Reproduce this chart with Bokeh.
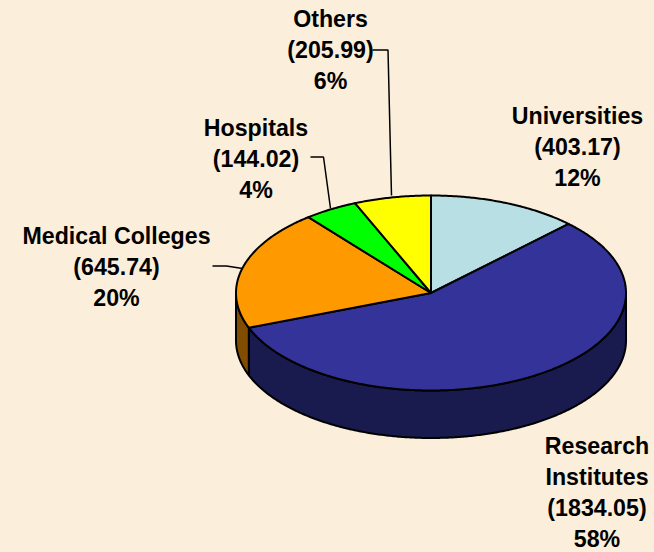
import numpy as np
from bokeh.embed import file_html
from bokeh.models import GlobalInlineStyleSheet, Range1d
from bokeh.plotting import figure
from bokeh.resources import INLINE

categories = ["Universities", "Research Institutes", "Medical Colleges", "Hospitals", "Others"]
values = [403.17, 1834.05, 645.74, 144.02, 205.99]
percents = ["12%", "58%", "20%", "4%", "6%"]
top_colors = ["#b8dfe3", "#333399", "#ff9900", "#00ff00", "#ffff00"]
side_colors = [None, "#191a4d", "#7f4c00", None, None]
value_labels = ["(403.17)", "(1834.05)", "(645.74)", "(144.02)", "(205.99)"]
label_lines = [
    ["Universities"],
    ["Research", "Institutes"],
    ["Medical Colleges"],
    ["Hospitals"],
    ["Others"],
]
label_x = [577, 596.5, 116, 255.5, 330]
label_y = [115, 445, 235, 127, 18]
leaders = [
    None,
    None,
    ([212, 226, 242], [265.5, 265.5, 268]),
    ([310, 323, 330], [156.5, 156.5, 208]),
    ([372, 387.5, 391], [49.5, 49.5, 195]),
]

BG = "#fbeedb"
CX, CY, RX, RY, DEPTH = 430.5, 292.5, 195, 97.5, 47.5
LINE_STEP = 31.2

p = figure(width=654, height=552, output_backend="svg", toolbar_location=None,
           x_range=Range1d(0, 654), y_range=Range1d(552, 0),
           background_fill_color=BG, border_fill_color=BG, min_border=0, outline_line_color=None)
p.axis.visible = False
p.grid.visible = False
p.stylesheets = [GlobalInlineStyleSheet(css=f"html,body{{background:{BG};overflow:hidden;margin:0}}")]


def arc(a0, a1, dy=0.0):
    t = np.radians(np.linspace(a0, a1, max(2, int(abs(a1 - a0) * 2) + 1)))
    return CX + RX * np.sin(t), CY - RY * np.cos(t) + dy


edges = np.concatenate([[0], np.cumsum(values)]) / np.sum(values) * 360

# side walls, only the part of the rim that faces the viewer
for i, col in enumerate(side_colors):
    a0, a1 = max(edges[i], 90), min(edges[i + 1], 270)
    if col is None or a1 <= a0:
        continue
    x, y = arc(a0, a1)
    xb, yb = arc(a0, a1, DEPTH)
    p.patch(np.concatenate([x, xb[::-1]]), np.concatenate([y, yb[::-1]]),
            fill_color=col, line_color="black", line_width=2, line_join="round")

# top slices
for i, col in enumerate(top_colors):
    x, y = arc(edges[i], edges[i + 1])
    p.patch(np.concatenate([[CX], x]), np.concatenate([[CY], y]),
            fill_color=col, line_color="black", line_width=2, line_join="round")

# leaders
for leader in leaders:
    if leader:
        p.line(leader[0], leader[1], line_color="black", line_width=1.5)

# labels
for i in range(len(categories)):
    lines = label_lines[i] + [value_labels[i], percents[i]]
    ys = [label_y[i] + k * LINE_STEP for k in range(len(lines))]
    p.text([label_x[i]] * len(lines), ys, text=lines, text_align="center", text_baseline="middle",
           text_font={"value": "Liberation Sans"}, text_font_style="bold", text_font_size="23.2px",
           text_color="black")

open("out.html", "w").write(file_html(p, INLINE))
